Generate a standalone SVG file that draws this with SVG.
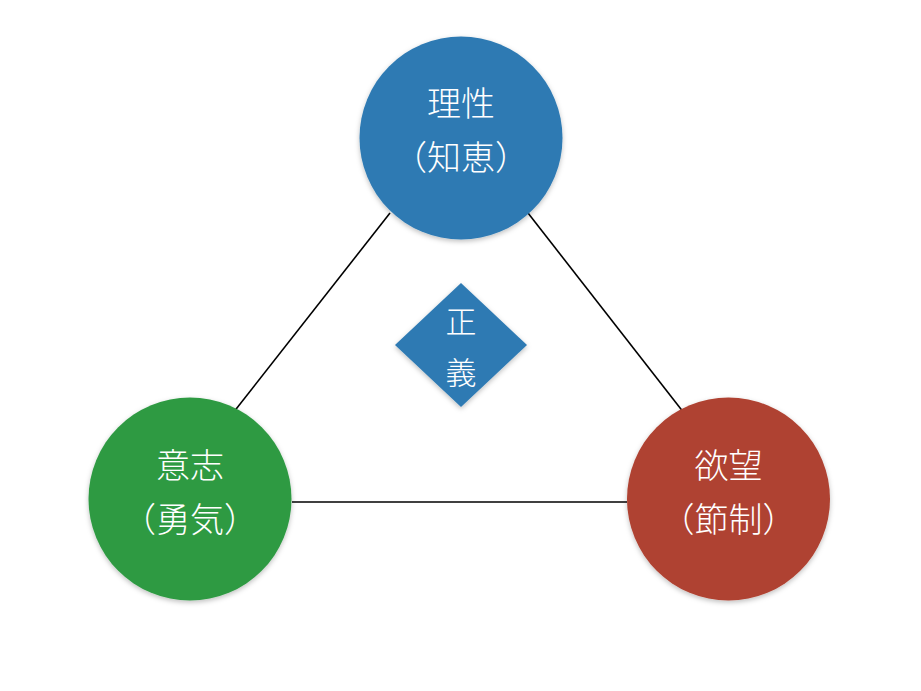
<svg xmlns="http://www.w3.org/2000/svg" width="921" height="691" viewBox="0 0 921 691">
<style>
.lbl{font-family:"Noto Sans CJK JP","Noto Sans CJK SC",sans-serif;font-weight:300;fill:#ffffff;text-anchor:middle;font-size:34px}
.sm{font-size:31px}
.conn{stroke:#000000;stroke-width:1.6;fill:none}
</style>
<defs>
<filter id="sh" x="-20%" y="-20%" width="140%" height="140%">
<feDropShadow dx="0" dy="2" stdDeviation="2.5" flood-color="#000" flood-opacity="0.25"/>
</filter>
</defs>
<rect width="921" height="691" fill="#ffffff"/>
<g id="connectors">
<line class="conn" x1="390" y1="213" x2="233" y2="413"/>
<line class="conn" x1="528" y1="213" x2="684" y2="413"/>
<line class="conn" x1="292" y1="502" x2="627" y2="502"/>
</g>
<g id="reason">
<circle cx="461" cy="138" r="101.5" fill="#2E7AB3" filter="url(#sh)"/>
<text class="lbl" x="461" y="116">理性</text>
<text class="lbl" x="461" y="170">（知恵）</text>
</g>
<g id="will">
<circle cx="190" cy="499" r="101.5" fill="#2F9A43" filter="url(#sh)"/>
<text class="lbl" x="190" y="478">意志</text>
<text class="lbl" x="190" y="532">（勇気）</text>
</g>
<g id="desire">
<circle cx="728.5" cy="499" r="101.5" fill="#AF4231" filter="url(#sh)"/>
<text class="lbl" x="728.5" y="478">欲望</text>
<text class="lbl" x="728.5" y="532">（節制）</text>
</g>
<g id="justice">
<polygon points="461,283 527,345 461,407 395,345" fill="#2E7AB3" filter="url(#sh)"/>
<text class="lbl sm" x="461" y="333">正</text>
<text class="lbl sm" x="461" y="384">義</text>
</g>
</svg>
